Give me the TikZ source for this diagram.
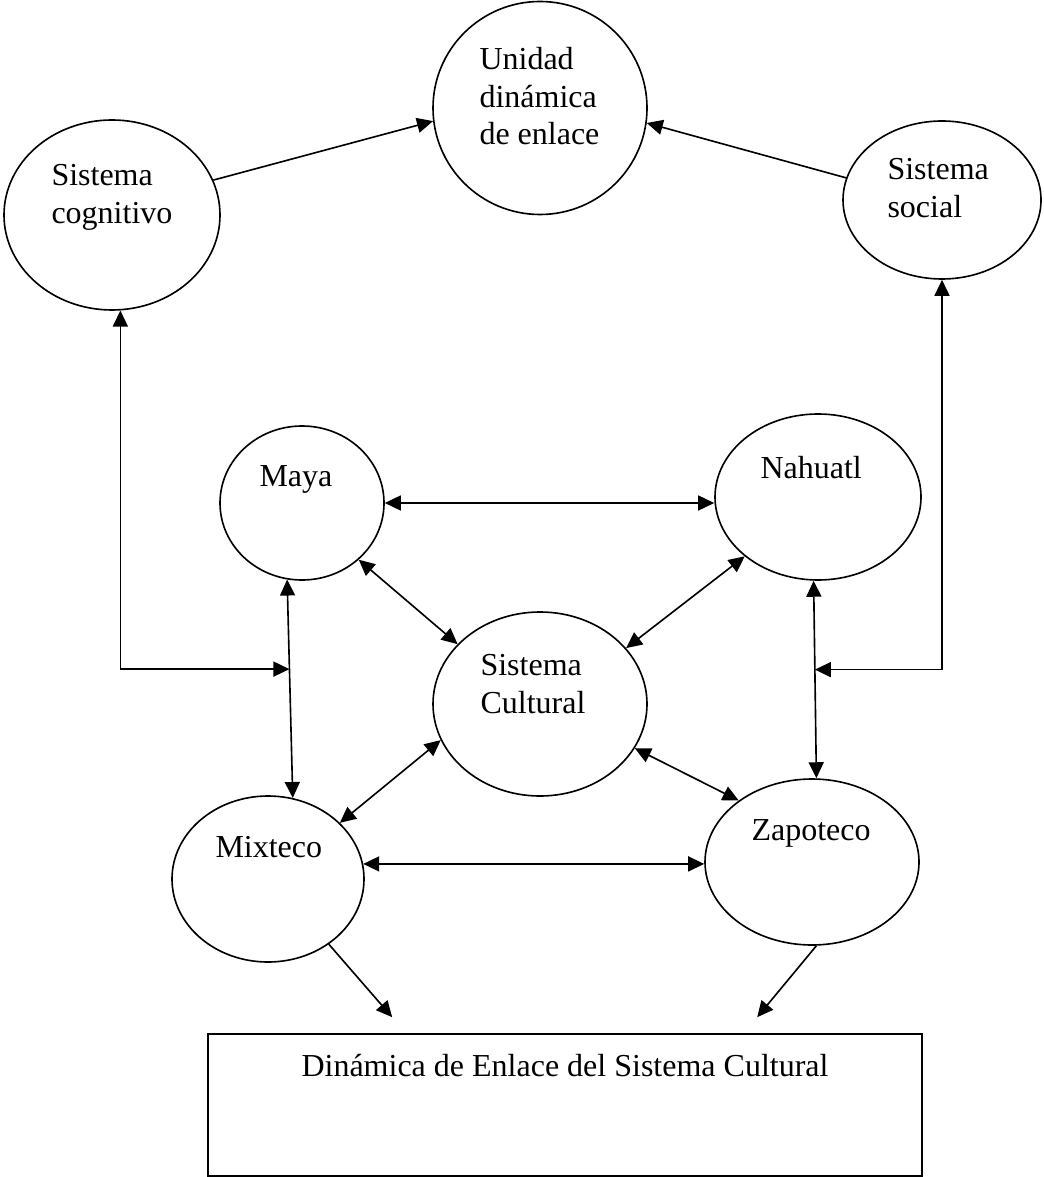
\documentclass[tikz,border=0pt]{standalone}
\usepackage{fontspec}
\setmainfont{Liberation Serif}
\usetikzlibrary{shapes.geometric, arrows.meta, calc}

\begin{document}
\begin{tikzpicture}[
    x=0.4pt, y=-0.4pt,
    bubble/.style={
        ellipse, draw=black, line width=0.65pt, inner sep=0pt
    },
    lbl/.style={
        inner sep=0pt, anchor=north west, align=left,
        font=\fontsize{12.8}{15}\selectfont
    },
    panel/.style={
        rectangle, draw=black, line width=0.65pt, inner sep=0pt,
        font=\fontsize{12.8}{15}\selectfont
    },
    arr/.style={-{Triangle[length=6.4pt, width=6pt]}, line width=0.65pt},
    biarr/.style={{Triangle[length=6.4pt, width=6pt]}-{Triangle[length=6.4pt, width=6pt]},
        line width=0.65pt}
]
\useasboundingbox (0,0) rectangle (1044,1177);

% ===================================================================
% TOP: cognitive and social systems feed the unit
% ===================================================================
\node[bubble, minimum width=85.6pt, minimum height=85.2pt] (unidad) at (540,108) {};
\node[lbl] (unidad-txt) at (479,47) {Unidad\\dinámica\\de enlace};

\node[bubble, minimum width=86.4pt, minimum height=76pt] (cognitivo) at (112,215) {};
\node[lbl] (cognitivo-txt) at (51,164) {Sistema\\cognitivo};

\node[bubble, minimum width=79.2pt, minimum height=63.2pt] (social) at (942,200) {};
\node[lbl] (social-txt) at (887,158) {Sistema\\social};

\draw[arr] (cognitivo.19) -- (unidad.187);
\draw[arr] (social.167) -- (unidad.352);

% ===================================================================
% MIDDLE: the four cultures round the cultural system
% ===================================================================
\node[bubble, minimum width=65.6pt, minimum height=61.6pt] (maya) at (302,503) {};
\node[lbl] (maya-txt) at (259,465) {Maya};

\node[bubble, minimum width=82.4pt, minimum height=66.4pt] (nahuatl) at (818,497) {};
\node[lbl] (nahuatl-txt) at (760,456) {Nahuatl};

\node[bubble, minimum width=85.6pt, minimum height=73.6pt] (cultural) at (540,704) {};
\node[lbl] (cultural-txt) at (480,654) {Sistema\\Cultural};

\node[bubble, minimum width=76.8pt, minimum height=66.4pt] (mixteco) at (268,879) {};
\node[lbl] (mixteco-txt) at (215,836) {Mixteco};

\node[bubble, minimum width=85.6pt, minimum height=66.4pt] (zapoteco) at (812,862) {};
\node[lbl] (zapoteco-txt) at (751,819) {Zapoteco};

\draw[biarr] (maya.east) -- (maya.east -| nahuatl.west);
\draw[biarr] (mixteco.9) -- (mixteco.9 -| zapoteco.west);
\draw[biarr] (maya.259) -- (mixteco.73)
    coordinate[pos=0.41] (left-join);
\draw[biarr] (nahuatl.267) -- (zapoteco.87)
    coordinate[pos=0.45] (right-join);
\draw[biarr] (maya.315) -- (cultural.144);
\draw[biarr] (nahuatl.219) -- (cultural.33);
\draw[biarr] (cultural.200) -- (mixteco.38);
\draw[biarr] (cultural.335) -- (zapoteco.140);

% links back up to the top systems
\draw[biarr] (left-join) -| (cognitivo.275);
\draw[biarr] (right-join) -| (social.south);

% ===================================================================
% BOTTOM: result
% ===================================================================
\node[panel, minimum width=285.6pt, text height=16.8pt, text depth=40pt]
    (dinamica) at (565,1105) {Dinámica de Enlace del Sistema Cultural};

\coordinate (mixteco-end) at ($(dinamica.north west)+(185,-16)$);
\coordinate (zapoteco-end) at ($(dinamica.north west)+(550,-16)$);
\draw[arr] (mixteco.313) -- (mixteco-end);
\draw[arr] (zapoteco.273) -- (zapoteco-end);

\end{tikzpicture}
\end{document}
